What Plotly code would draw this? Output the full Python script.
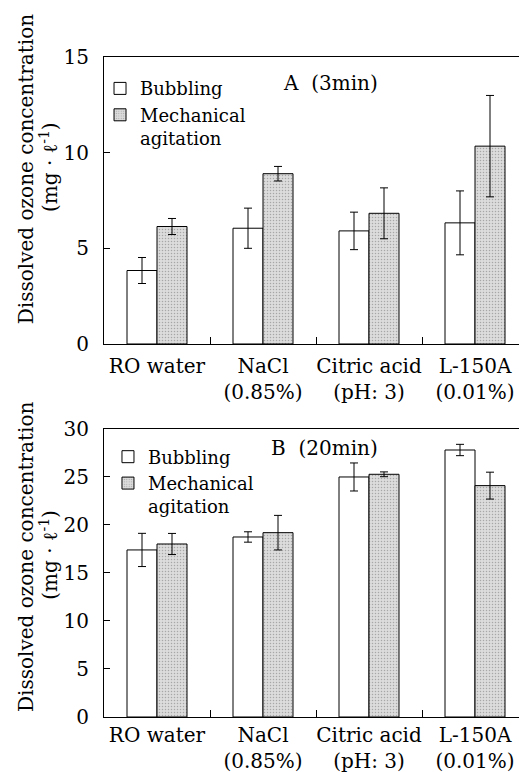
import plotly.graph_objects as go

categories = ["RO water", "NaCl<br>(0.85%)", "Citric acid<br>(pH: 3)", "L-150A<br>(0.01%)"]

# Panel A (3 min)
a_bubbling = [3.84, 6.05, 5.91, 6.33]
a_bubbling_err = [0.68, 1.05, 0.98, 1.67]
a_mech = [6.14, 8.90, 6.83, 10.34]
a_mech_err = [0.42, 0.38, 1.33, 2.65]

# Panel B (20 min)
b_bubbling = [17.40, 18.75, 25.00, 27.81]
b_bubbling_err = [1.73, 0.54, 1.46, 0.59]
b_mech = [18.02, 19.20, 25.28, 24.10]
b_mech_err = [1.10, 1.80, 0.25, 1.40]

FONT = "DejaVu Serif"
FS = 20

fig = go.Figure()

def add_pair(bub, bub_err, mech, mech_err, xa, ya, leg, show):
    fig.add_trace(go.Bar(
        x=categories, y=bub, name="Bubbling", xaxis=xa, yaxis=ya, legend=leg,
        marker=dict(color="white", line=dict(color="black", width=1)),
        error_y=dict(type="data", array=bub_err, color="black", thickness=1, width=4),
        showlegend=show,
    ))
    fig.add_trace(go.Bar(
        x=categories, y=mech, name="Mechanical<br>agitation", xaxis=xa, yaxis=ya, legend=leg,
        marker=dict(color="#dcdcdc", line=dict(color="black", width=1),
                    pattern=dict(shape=".", fgcolor="#707070", bgcolor="#dcdcdc", size=3, solidity=0.2)),
        error_y=dict(type="data", array=mech_err, color="black", thickness=1, width=4),
        showlegend=show,
    ))

add_pair(a_bubbling, a_bubbling_err, a_mech, a_mech_err, "x", "y", "legend", True)
add_pair(b_bubbling, b_bubbling_err, b_mech, b_mech_err, "x2", "y2", "legend2", True)

axis_common_x = dict(
    range=[-0.5, 3.415], showline=True, linecolor="black", linewidth=1, mirror=True,
    ticks="inside", ticklen=7, tickcolor="black", tickson="boundaries", tickangle=0,
    tickfont=dict(family=FONT, size=FS, color="black"), showgrid=False, automargin=False,
)
axis_common_y = dict(
    showline=True, linecolor="black", linewidth=1, ticks="inside", ticklen=6,
    tickcolor="black", tickfont=dict(family=FONT, size=FS, color="black"),
    showgrid=False, zeroline=False, ticklabelstandoff=10, automargin=False,
)

LFS = 18
fig.update_layout(
    width=519, height=772,
    margin=dict(l=104, r=0, t=57, b=55),
    paper_bgcolor="white", plot_bgcolor="white",
    barmode="group", bargap=0.434, bargroupgap=0,
    font=dict(family=FONT, size=FS, color="black"),
    xaxis=dict(domain=[0, 1], anchor="y", ticklabelstandoff=4, **axis_common_x),
    yaxis=dict(domain=[0.5652, 1], anchor="x", range=[0, 15], tickvals=[0, 5, 10, 15], **axis_common_y),
    xaxis2=dict(domain=[0, 1], anchor="y2", ticklabelstandoff=0, **axis_common_x),
    yaxis2=dict(domain=[0, 0.4364], anchor="x2", range=[0, 30], tickvals=[0, 5, 10, 15, 20, 25, 30], **axis_common_y),
    legend=dict(x=-0.0096, y=0.980, xanchor="left", yanchor="top", bgcolor="rgba(0,0,0,0)",
                font=dict(family=FONT, size=LFS), valign="top", tracegroupgap=0),
    legend2=dict(x=0.0096, y=0.422, xanchor="left", yanchor="top", bgcolor="rgba(0,0,0,0)",
                 font=dict(family=FONT, size=LFS), valign="top", tracegroupgap=0),
)

ann_font = dict(family=FONT, size=FS, color="black")
annotations = [
    dict(text="Dissolved ozone concentration", x=-0.188, y=0.830),
    dict(text="(mg · ℓ<sup>-1</sup>)", x=-0.133, y=0.833),
    dict(text="Dissolved ozone concentration", x=-0.188, y=0.2424),
    dict(text="(mg · ℓ<sup>-1</sup>)", x=-0.133, y=0.2455),
]
for a in annotations:
    fig.add_annotation(xref="paper", yref="paper", textangle=-90, showarrow=False,
                       xanchor="center", yanchor="middle", font=ann_font, **a)

fig.add_annotation(text="A\u00a0\u00a0(3min)", xref="paper", yref="paper", x=0.5446, y=0.9606,
                   showarrow=False, xanchor="center", yanchor="middle", font=ann_font)
fig.add_annotation(text="B\u00a0\u00a0(20min)", xref="paper", yref="paper", x=0.5325, y=0.4076,
                   showarrow=False, xanchor="center", yanchor="middle", font=ann_font)

fig.write_html("out.html")
